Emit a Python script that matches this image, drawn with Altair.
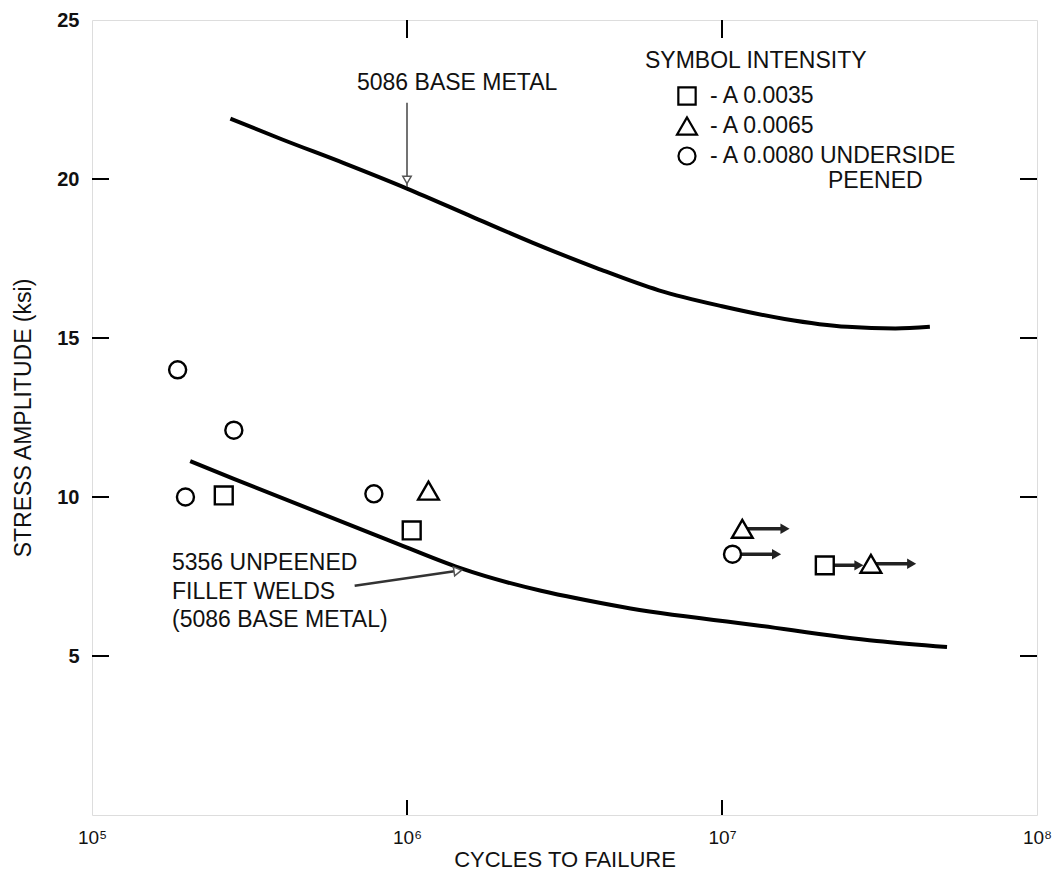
import altair as alt
import pandas as pd

FONT = "Liberation Sans"

# ---- curves (cycles, ksi) ----
base_x = [2.75e5, 4.0e5, 6.3e5, 1.0e6, 1.58e6, 2.5e6, 4.0e6, 6.3e6, 1.0e7, 1.58e7, 2.5e7, 3.55e7, 4.57e7]
base_y = [21.9, 21.25, 20.5, 19.7, 18.85, 18.0, 17.2, 16.5, 16.0, 15.6, 15.35, 15.3, 15.35]

weld_x = [2.05e5, 2.82e5, 8.6e5, 1.47e6, 4.83e6, 1.28e7, 3.1e7, 5.18e7]
weld_y = [11.13, 10.57, 8.67, 7.77, 6.54, 5.97, 5.47, 5.28]

# ---- test points ----
circ_x = [1.87e5, 2.82e5, 1.98e5, 7.85e5, 1.08e7]
circ_y = [14.0, 12.1, 10.0, 10.1, 8.2]
sq_x = [2.62e5, 1.035e6, 2.12e7]
sq_y = [10.05, 8.95, 7.85]
tri_x = [1.17e6, 1.16e7, 2.97e7]
tri_y = [10.2, 9.0, 7.9]

# run-outs (did not fail)
run_x = [1.08e7, 1.16e7, 2.12e7, 2.97e7]
run_y = [8.2, 9.0, 7.85, 7.9]
run_end = [1.49e7, 1.585e7, 2.72e7, 4.0e7]

# annotation arrows
base_arrow_x = [1.0e6]
base_arrow_y = [22.4]
base_arrow_y2 = [19.75]
weld_arrow_x = [6.82e5]
weld_arrow_x2 = [1.45e6]
weld_arrow_y = [7.21]
weld_arrow_y2 = [7.68]

# axes
x_ticks = [1e5, 1e6, 1e7, 1e8]
x_inner_ticks = [1e6, 1e7]
y_ticks = [5, 10, 15, 20, 25]
y_inner_ticks = [5, 10, 15, 20]

W, H = 945, 795
TS = 23  # annotation text size

xs = alt.Scale(type="log", domain=[1e5, 1e8], nice=False)
ys = alt.Scale(domain=[0, 25], nice=False, zero=False)

xaxis = alt.Axis(
    values=x_ticks,
    labelExpr="datum.value < 5e5 ? '10\u2075' : datum.value < 5e6 ? '10\u2076' : datum.value < 5e7 ? '10\u2077' : '10\u2078'",
    tickSize=0, domain=False, grid=False, labelFlush=False,
    labelFontSize=19, labelPadding=13, labelFont=FONT, labelColor="#111",
    title="CYCLES TO FAILURE", titleFontSize=22, titleFont=FONT,
    titleFontWeight="normal", titlePadding=2, titleColor="#111",
)
yaxis = alt.Axis(
    values=y_ticks, tickSize=0, domain=False, grid=False, labelFlush=False,
    labelFontSize=20, labelPadding=13, labelFont=FONT, labelFontWeight="bold",
    labelColor="#111",
    title="STRESS AMPLITUDE (ksi)", titleFontSize=TS, titleFont=FONT,
    titleFontWeight="normal", titlePadding=21, titleColor="#111",
)

X = lambda f="x": alt.X(f"{f}:Q", scale=xs, axis=xaxis)
Y = lambda f="y": alt.Y(f"{f}:Q", scale=ys, axis=yaxis)

def df(**kw):
    return pd.DataFrame(kw)

# inner tick marks
lt = alt.Chart(df(y=y_inner_ticks)).mark_rule(color="black", strokeWidth=2).encode(
    y=Y(), x=alt.value(0), x2=alt.value(17))
rt = alt.Chart(df(y=y_inner_ticks)).mark_rule(color="black", strokeWidth=2).encode(
    y=Y(), x=alt.value(W - 17), x2=alt.value(W))
bt = alt.Chart(df(x=x_inner_ticks)).mark_rule(color="black", strokeWidth=2).encode(
    x=X(), y=alt.value(H), y2=alt.value(H - 15))
tt = alt.Chart(df(x=x_inner_ticks)).mark_rule(color="black", strokeWidth=2).encode(
    x=X(), y=alt.value(0), y2=alt.value(18))

base = alt.Chart(df(x=base_x, y=base_y)).mark_line(
    color="black", strokeWidth=4, interpolate="monotone").encode(x=X(), y=Y())
weld = alt.Chart(df(x=weld_x, y=weld_y)).mark_line(
    color="black", strokeWidth=4, interpolate="monotone").encode(x=X(), y=Y())

run_df = df(x=run_x, y=run_y, x2=run_end)
run_rules = alt.Chart(run_df).mark_rule(color="#222", strokeWidth=3.5).encode(
    x=X(), x2="x2:Q", y=Y())
run_heads = alt.Chart(run_df).mark_point(
    shape="triangle-right", filled=True, color="#222", size=110, opacity=1).encode(
    x=alt.X("x2:Q", scale=xs, axis=xaxis), y=Y())

def markers(xv, yv, shape, size):
    return alt.Chart(df(x=xv, y=yv)).mark_point(
        shape=shape, filled=True, fill="white", stroke="black",
        strokeWidth=2.4, size=size, opacity=1, fillOpacity=1).encode(x=X(), y=Y())

circ = markers(circ_x, circ_y, "circle", 290)
sq = markers(sq_x, sq_y, "square", 320)
tri = markers(tri_x, tri_y, "triangle-up", 430)

# annotation arrows
ba_df = df(x=base_arrow_x, y=base_arrow_y, y2=base_arrow_y2)
ba = alt.Chart(ba_df).mark_rule(color="#444", strokeWidth=1.5).encode(
    x=X(), y=Y(), y2="y2:Q")
ba_head = alt.Chart(ba_df).mark_point(
    shape="triangle-down", filled=True, fill="white", stroke="#555",
    strokeWidth=1.5, size=70, opacity=1).encode(
    x=X(), y=alt.Y("y2:Q", scale=ys, axis=yaxis), yOffset=alt.value(-7))

wa_df = df(x=weld_arrow_x, x2=weld_arrow_x2, y=weld_arrow_y, y2=weld_arrow_y2)
wa = alt.Chart(wa_df).mark_rule(color="#333", strokeWidth=2.5).encode(
    x=X(), x2="x2:Q", y=Y(), y2="y2:Q")
wa_head = alt.Chart(wa_df).mark_point(
    shape="triangle-right", filled=True, fill="white", stroke="#555",
    strokeWidth=1.5, size=80, angle=351.6, opacity=1).encode(
    x=alt.X("x2:Q", scale=xs, axis=xaxis), y=alt.Y("y2:Q", scale=ys, axis=yaxis))

def txt(s, x, y, size=TS, weight="normal"):
    return alt.Chart(df(t=[s])).mark_text(
        align="left", baseline="middle", fontSize=size, font=FONT,
        fontWeight=weight, color="#111").encode(
        x=alt.value(x), y=alt.value(y), text="t:N")

def sym(shape, x, y, size):
    return alt.Chart(df(t=[shape])).mark_point(
        shape=shape, filled=True, fill="white", stroke="black",
        strokeWidth=2.2, size=size, opacity=1).encode(x=alt.value(x), y=alt.value(y))

labels = [
    txt("5086 BASE METAL", 265, 63),
    txt("5356 UNPEENED", 80, 543),
    txt("FILLET WELDS", 80, 572),
    txt("(5086 BASE METAL)", 80, 600),
    txt("SYMBOL INTENSITY", 553, 41),
    sym("square", 595, 76, 300),
    txt("- A 0.0035", 618, 76),
    sym("triangle-up", 595, 106, 400),
    txt("- A 0.0065", 618, 106),
    sym("circle", 595, 136, 290),
    txt("- A 0.0080 UNDERSIDE", 618, 136),
    txt("PEENED", 736, 161),
]

chart = alt.layer(
    lt, rt, bt, tt, base, weld, run_rules, run_heads, circ, sq, tri,
    ba, ba_head, wa, wa_head, *labels
).properties(
    width=W, height=H,
    autosize=alt.AutoSizeParams(type="none"),
    padding={"left": 84, "top": 12, "right": 15, "bottom": 57},
).configure_view(
    stroke="black", strokeWidth=2.5
).configure(background="white")

chart.save("out.html", embed_options={"renderer": "svg", "actions": False})
